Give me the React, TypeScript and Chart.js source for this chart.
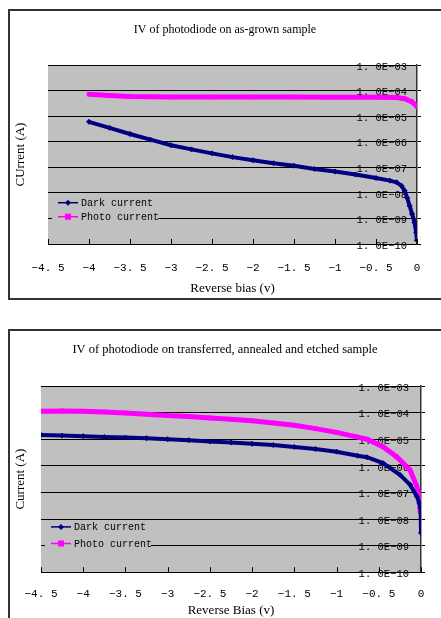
import React, { useEffect, useRef } from "react";
import { Chart, registerables } from "chart.js";

Chart.register(...registerables);

// ---------- shared axis data ----------
const DECADES = [1e-10, 1e-9, 1e-8, 1e-7, 1e-6, 1e-5, 1e-4, 1e-3];
const Y_TICK_LABELS = ["1. 0E\u221210", "1. 0E\u221209", "1. 0E\u221208", "1. 0E\u221207", "1. 0E\u221206", "1. 0E\u221205", "1. 0E\u221204", "1. 0E\u221203"];
const X_TICKS = [-4.5, -4, -3.5, -3, -2.5, -2, -1.5, -1, -0.5, 0];
const X_TICK_LABELS = ["\u22124. 5", "\u22124", "\u22123. 5", "\u22123", "\u22122. 5", "\u22122", "\u22121. 5", "\u22121", "\u22120. 5", "0"];
const SERIES_NAMES = ["Dark current", "Photo current"];

// ---------- chart A: as-grown ----------
const A_TITLE = "IV of photodiode on as-grown sample";
const A_X_TITLE = "Reverse bias (v)";
const A_Y_TITLE = "CUrrent (A)";
const A_DARK_V = [-4, -3.75, -3.5, -3.25, -3, -2.75, -2.5, -2.25, -2, -1.75, -1.5, -1.25, -1, -0.75, -0.5, -0.33, -0.25, -0.19, -0.15, -0.12, -0.09, -0.06, -0.03, -0.01, 0];
const A_DARK_I = [6.0e-6, 3.5e-6, 2.0e-6, 1.2e-6, 7.3e-7, 5.0e-7, 3.5e-7, 2.5e-7, 1.9e-7, 1.45e-7, 1.15e-7, 8.6e-8, 6.8e-8, 5.2e-8, 3.8e-8, 3.0e-8, 2.6e-8, 1.9e-8, 1.2e-8, 6.4e-9, 3.1e-9, 1.5e-9, 6.9e-10, 2.8e-10, 1.4e-10];
const A_PHOTO_V = [-4, -3.75, -3.5, -3.25, -3, -2.5, -2, -1.5, -1, -0.5, -0.25, -0.15, -0.065, 0];
const A_PHOTO_I = [7.2e-5, 6.4e-5, 5.9e-5, 5.7e-5, 5.6e-5, 5.6e-5, 5.6e-5, 5.6e-5, 5.5e-5, 5.5e-5, 5.4e-5, 4.8e-5, 3.7e-5, 2.4e-5];

// ---------- chart B: transferred, annealed, etched ----------
const B_TITLE = "IV of photodiode on transferred, annealed and etched sample";
const B_X_TITLE = "Reverse Bias (v)";
const B_Y_TITLE = "Current (A)";
const B_DARK_V = [-4.5, -4.25, -4, -3.75, -3.5, -3.25, -3, -2.75, -2.5, -2.25, -2, -1.75, -1.5, -1.25, -1, -0.75, -0.64, -0.45, -0.25, -0.13, -0.05, -0.02, -0.005, 0];
const B_DARK_I = [1.45e-5, 1.37e-5, 1.3e-5, 1.22e-5, 1.15e-5, 1.09e-5, 1.0e-5, 9.2e-6, 8.2e-6, 7.5e-6, 6.7e-6, 6.0e-6, 5.1e-6, 4.3e-6, 3.4e-6, 2.4e-6, 2.1e-6, 1.26e-6, 4.6e-7, 1.95e-7, 7.1e-8, 4.0e-8, 2.6e-8, 3.0e-9];
const B_PHOTO_V = [-4.5, -4.25, -4, -3.75, -3.5, -3.25, -3, -2.75, -2.5, -2.25, -2, -1.75, -1.5, -1.25, -1, -0.75, -0.64, -0.45, -0.29, -0.13, -0.05, -0.024, -0.01];
const B_PHOTO_I = [1.12e-4, 1.15e-4, 1.12e-4, 1.06e-4, 9.7e-5, 8.7e-5, 7.7e-5, 7.1e-5, 6.3e-5, 5.6e-5, 4.9e-5, 4.1e-5, 3.35e-5, 2.5e-5, 1.8e-5, 1.2e-5, 1.0e-5, 5.2e-6, 2.2e-6, 7.0e-7, 1.7e-7, 7.0e-8, 1.9e-8];

const NAVY = "#000080";
const MAGENTA = "#FF00FF";
const PLOT_BG = "#C0C0C0";
const SERIF = "'Liberation Serif', 'Times New Roman', serif";
const MONO = "'Liberation Mono', 'DejaVu Sans Mono', monospace";

type Cfg = {
  title: string; xTitle: string; yTitle: string;
  darkV: number[]; darkI: number[]; photoV: number[]; photoI: number[];
  width: number; height: number;
  layoutPad: { top: number; left: number; right: number; bottom: number };
  titlePad: { top: number; bottom: number }; titleSize: number;
  yTitlePad: { top: number; bottom: number };
  yTickPad: number; rightSpace: number;
  xTickPad: number; xTickLen: number; xTitlePad: { top: number; bottom: number };
  legend: { boxTop: number; boxH: number; boxW: number; row1: number; row2: number };
};

function makePlugin(cfg: Cfg) {
  return {
    id: "decor",
    beforeDraw(chart: any) {
      const { ctx, chartArea: a } = chart;
      ctx.save();
      ctx.fillStyle = PLOT_BG;
      ctx.fillRect(a.left, a.top, a.right - a.left, a.bottom - a.top);
      ctx.restore();
    },
    afterDatasetsDraw(chart: any) {
      const { ctx, chartArea: a } = chart;
      const xs = chart.scales.x;
      ctx.save();
      // inward x tick marks
      ctx.strokeStyle = "#000";
      ctx.lineWidth = 1;
      X_TICKS.forEach((v) => {
        const px = Math.round(xs.getPixelForValue(v)) + 0.5;
        ctx.beginPath();
        ctx.moveTo(px, a.bottom);
        ctx.lineTo(px, a.bottom - 5);
        ctx.stroke();
      });
      // legend box
      const L = cfg.legend;
      const bx = a.left + 4;
      const by = a.bottom - L.boxTop;
      ctx.fillStyle = PLOT_BG;
      ctx.fillRect(bx, by, L.boxW, L.boxH);
      const rows = [a.bottom - L.row1, a.bottom - L.row2];
      const colors = [NAVY, MAGENTA];
      ctx.font = `10px ${MONO}`;
      ctx.textBaseline = "middle";
      ctx.textAlign = "left";
      chart.data.datasets.forEach((ds: any, i: number) => {
        const y = rows[i];
        ctx.strokeStyle = colors[i];
        ctx.lineWidth = 1.5;
        ctx.beginPath();
        ctx.moveTo(a.left + 10, y);
        ctx.lineTo(a.left + 30, y);
        ctx.stroke();
        ctx.fillStyle = colors[i];
        const cx = a.left + 20;
        if (i === 0) {
          ctx.beginPath();
          ctx.moveTo(cx, y - 3);
          ctx.lineTo(cx + 3, y);
          ctx.lineTo(cx, y + 3);
          ctx.lineTo(cx - 3, y);
          ctx.closePath();
          ctx.fill();
        } else {
          ctx.fillRect(cx - 3, y - 3, 6, 6);
        }
        ctx.fillStyle = "#000";
        ctx.fillText(ds.label, a.left + 33, y + 0.5);
      });
      ctx.restore();
    },
  };
}

function IVChart({ cfg }: { cfg: Cfg }) {
  const ref = useRef<HTMLCanvasElement | null>(null);
  useEffect(() => {
    if (!ref.current) return;
    const chart = new Chart(ref.current, {
      type: "line",
      data: {
        datasets: [
          {
            label: SERIES_NAMES[0],
            data: cfg.darkV.map((v, i) => ({ x: v, y: cfg.darkI[i] })),
            borderColor: NAVY,
            backgroundColor: NAVY,
            borderWidth: 4,
            pointStyle: "rectRot",
            pointRadius: 2.5,
            pointBorderWidth: 1,
            yAxisID: "y",
            xAxisID: "x",
          },
          {
            label: SERIES_NAMES[1],
            data: cfg.photoV.map((v, i) => ({ x: v, y: cfg.photoI[i] })),
            borderColor: MAGENTA,
            backgroundColor: MAGENTA,
            borderWidth: 5,
            pointStyle: "rect",
            pointRadius: 2.5,
            pointBorderWidth: 1,
            yAxisID: "y",
            xAxisID: "x",
          },
        ],
      },
      options: {
        responsive: false,
        animation: false,
        devicePixelRatio: 1,
        layout: { padding: cfg.layoutPad },
        plugins: {
          legend: { display: false },
          tooltip: { enabled: false },
          title: {
            display: true,
            text: cfg.title,
            color: "#000",
            font: { family: SERIF, size: cfg.titleSize, weight: "normal" },
            padding: cfg.titlePad,
          },
        },
        scales: {
          x: {
            type: "linear",
            position: "bottom",
            min: -4.5,
            max: 0,
            afterBuildTicks: (s: any) => {
              s.ticks = X_TICKS.map((v) => ({ value: v }));
            },
            ticks: {
              autoSkip: false,
              maxRotation: 0,
              padding: cfg.xTickPad,
              color: "#000",
              font: { family: MONO, size: 11 },
              callback: (v: any) => {
                const i = X_TICKS.findIndex((t) => Math.abs(t - Number(v)) < 1e-9);
                return i >= 0 ? X_TICK_LABELS[i] : "";
              },
            },
            grid: {
              display: true,
              drawOnChartArea: false,
              drawTicks: true,
              tickLength: cfg.xTickLen,
              tickColor: "rgba(0,0,0,0)",
            },
            border: { display: true, color: "#000", width: 1 },
            title: {
              display: true,
              text: cfg.xTitle,
              color: "#000",
              font: { family: SERIF, size: 13 },
              padding: cfg.xTitlePad,
            },
          },
          y: {
            type: "logarithmic",
            position: "right",
            weight: 0,
            min: 1e-10,
            max: 1e-3,
            afterBuildTicks: (s: any) => {
              s.ticks = DECADES.map((v) => ({ value: v }));
            },
            ticks: {
              mirror: true,
              autoSkip: false,
              padding: cfg.yTickPad,
              labelOffset: 2,
              color: "#000",
              font: { family: MONO, size: 10.5 },
              callback: (v: any) => {
                const i = DECADES.findIndex((d) => Math.abs(Math.log10(d) - Math.log10(Number(v))) < 1e-6);
                return i >= 0 ? Y_TICK_LABELS[i] : "";
              },
            },
            grid: { color: "#000", lineWidth: 1, drawTicks: true, tickLength: 4, tickColor: "#000" },
            border: { display: true, color: "#333", width: 1.5 },
          },
          yr: {
            type: "linear",
            position: "right",
            weight: 5,
            display: true,
            ticks: { display: false },
            grid: { display: false, drawTicks: false },
            border: { display: false },
            title: {
              display: true,
              text: " ",
              color: "rgba(0,0,0,0)",
              font: { family: SERIF, size: 10, lineHeight: 1 },
              padding: { top: 0, bottom: cfg.rightSpace - 10 },
            },
          },
          yl: {
            type: "linear",
            position: "left",
            display: true,
            ticks: { display: false },
            grid: { display: false, drawTicks: false },
            border: { display: false },
            title: {
              display: true,
              text: cfg.yTitle,
              color: "#000",
              font: { family: SERIF, size: 13 },
              padding: cfg.yTitlePad,
            },
          },
        },
      } as any,
      plugins: [makePlugin(cfg)],
    });
    return () => chart.destroy();
  }, [cfg]);
  return <canvas ref={ref} width={cfg.width} height={cfg.height} style={{ display: "block" }} />;
}

const CFG_A: Cfg = {
  title: A_TITLE, xTitle: A_X_TITLE, yTitle: A_Y_TITLE,
  darkV: A_DARK_V, darkI: A_DARK_I, photoV: A_PHOTO_V, photoI: A_PHOTO_I,
  width: 441, height: 300,
  layoutPad: { top: 10, left: 9, right: 0, bottom: 0 },
  titlePad: { top: 12.8, bottom: 27.8 }, titleSize: 12,
  yTitlePad: { top: 4, bottom: 19.4 },
  yTickPad: -10, rightSpace: 24,
  xTickPad: 7, xTickLen: 10, xTitlePad: { top: 0, bottom: 3.2 },
  legend: { boxTop: 49, boxH: 30, boxW: 106, row1: 41.3, row2: 27.3 },
};

const CFG_B: Cfg = {
  title: B_TITLE, xTitle: B_X_TITLE, yTitle: B_Y_TITLE,
  darkV: B_DARK_V, darkI: B_DARK_I, photoV: B_PHOTO_V, photoI: B_PHOTO_I,
  width: 441, height: 308,
  layoutPad: { top: 20, left: 9, right: 0, bottom: 0 },
  titlePad: { top: 12.5, bottom: 28.5 }, titleSize: 12.5,
  yTitlePad: { top: 4, bottom: 12.4 },
  yTickPad: -12, rightSpace: 20,
  xTickPad: 1.6, xTickLen: 13.8, xTitlePad: { top: 0, bottom: 0 },
  legend: { boxTop: 52, boxH: 32, boxW: 106, row1: 45.3, row2: 28.7 },
};

export default function App() {
  return (
    <div style={{ position: "fixed", left: 0, top: 0, width: 441, height: 618, overflow: "hidden", background: "#fff" }}>
      <div style={{ position: "absolute", left: 8, top: 9, width: 440, height: 287, border: "2px solid #333" }} />
      <div style={{ position: "absolute", left: 8, top: 329, width: 440, height: 400, border: "2px solid #333" }} />
      <div style={{ position: "absolute", left: 0, top: 0 }}>
        <IVChart cfg={CFG_A} />
      </div>
      <div style={{ position: "absolute", left: 0, top: 310 }}>
        <IVChart cfg={CFG_B} />
      </div>
    </div>
  );
}
